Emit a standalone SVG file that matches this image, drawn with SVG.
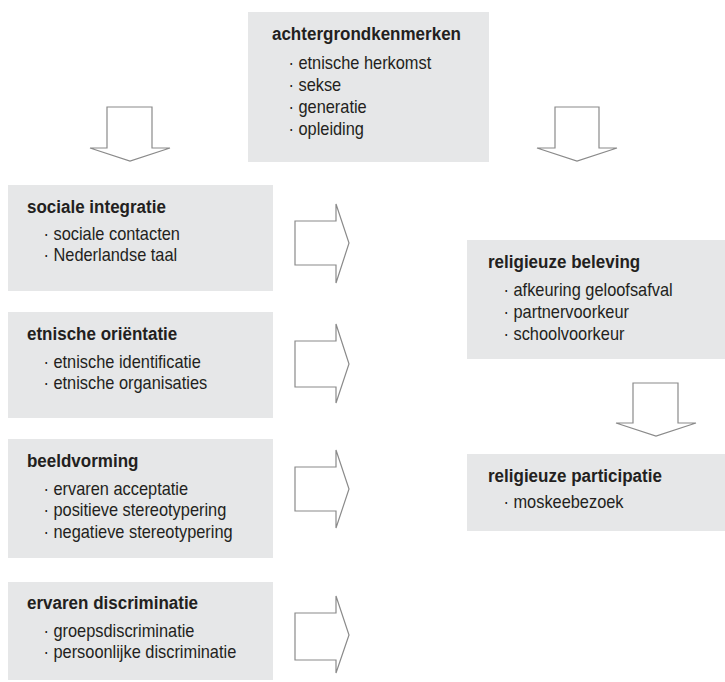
<svg xmlns="http://www.w3.org/2000/svg" width="725" height="682" viewBox="0 0 725 682">
<style>
.box{fill:#e6e7e8}
.t{font-family:"Liberation Sans",Arial,sans-serif;font-size:18.5px;font-weight:bold;fill:#231f20;transform:scale(0.92,1)}
.i{font-family:"Liberation Sans",Arial,sans-serif;font-size:18px;fill:#231f20;transform:scale(0.91,1)}
.arr{fill:#fff;stroke:#8a8a8a;stroke-width:1.2;stroke-linejoin:miter}
</style>
<rect width="725" height="682" fill="#fff"/>
<g id="achtergrondkenmerken">
<rect class="box" x="248" y="12" width="241" height="150"/>
<text class="t" x="295.6" y="40">achtergrondkenmerken</text>
<text class="i" x="317" y="69">· etnische herkomst</text>
<text class="i" x="317" y="91">· sekse</text>
<text class="i" x="317" y="113">· generatie</text>
<text class="i" x="317" y="135">· opleiding</text>
</g>
<g id="sociale-integratie">
<rect class="box" x="8" y="185" width="265" height="106"/>
<text class="t" x="29.3" y="213">sociale integratie</text>
<text class="i" x="47.8" y="240">· sociale contacten</text>
<text class="i" x="47.8" y="261">· Nederlandse taal</text>
</g>
<g id="etnische-orientatie">
<rect class="box" x="8" y="312" width="265" height="106"/>
<text class="t" x="29.3" y="340">etnische oriëntatie</text>
<text class="i" x="47.8" y="368">· etnische identificatie</text>
<text class="i" x="47.8" y="389">· etnische organisaties</text>
</g>
<g id="beeldvorming">
<rect class="box" x="8" y="439" width="265" height="119"/>
<text class="t" x="29.3" y="467">beeldvorming</text>
<text class="i" x="47.8" y="495">· ervaren acceptatie</text>
<text class="i" x="47.8" y="516.5">· positieve stereotypering</text>
<text class="i" x="47.8" y="538">· negatieve stereotypering</text>
</g>
<g id="ervaren-discriminatie">
<rect class="box" x="8" y="582" width="265" height="98"/>
<text class="t" x="29.3" y="609">ervaren discriminatie</text>
<text class="i" x="47.8" y="637">· groepsdiscriminatie</text>
<text class="i" x="47.8" y="658">· persoonlijke discriminatie</text>
</g>
<g id="religieuze-beleving">
<rect class="box" x="467" y="240" width="258" height="119"/>
<text class="t" x="530.4" y="268.5">religieuze beleving</text>
<text class="i" x="553.3" y="296.5">· afkeuring geloofsafval</text>
<text class="i" x="553.3" y="318">· partnervoorkeur</text>
<text class="i" x="553.3" y="340">· schoolvoorkeur</text>
</g>
<g id="religieuze-participatie">
<rect class="box" x="467" y="454" width="258" height="77"/>
<text class="t" x="530.4" y="482">religieuze participatie</text>
<text class="i" x="553.3" y="508">· moskeebezoek</text>
</g>
<g id="connectors">
<polygon class="arr" points="107,107 152,107 152,148 170,148 130,161 90,148 107,148"/>
<polygon class="arr" points="555,107 599,107 599,148 617,148 577,161 537,148 555,148"/>
<polygon class="arr" points="633,383 678,383 678,423 696,423 656,436 616,423 633,423"/>
<polygon class="arr" points="295,221 336,221 336,204 349,243 336,283 336,265 295,265"/>
<polygon class="arr" points="295,341 336,341 336,324 349,364 336,403 336,387 295,387"/>
<polygon class="arr" points="295,467 336,467 336,450 349,489 336,528 336,511 295,511"/>
<polygon class="arr" points="295,613 336,613 336,596 349,635 336,673 336,660 295,660"/>
</g>
</svg>
